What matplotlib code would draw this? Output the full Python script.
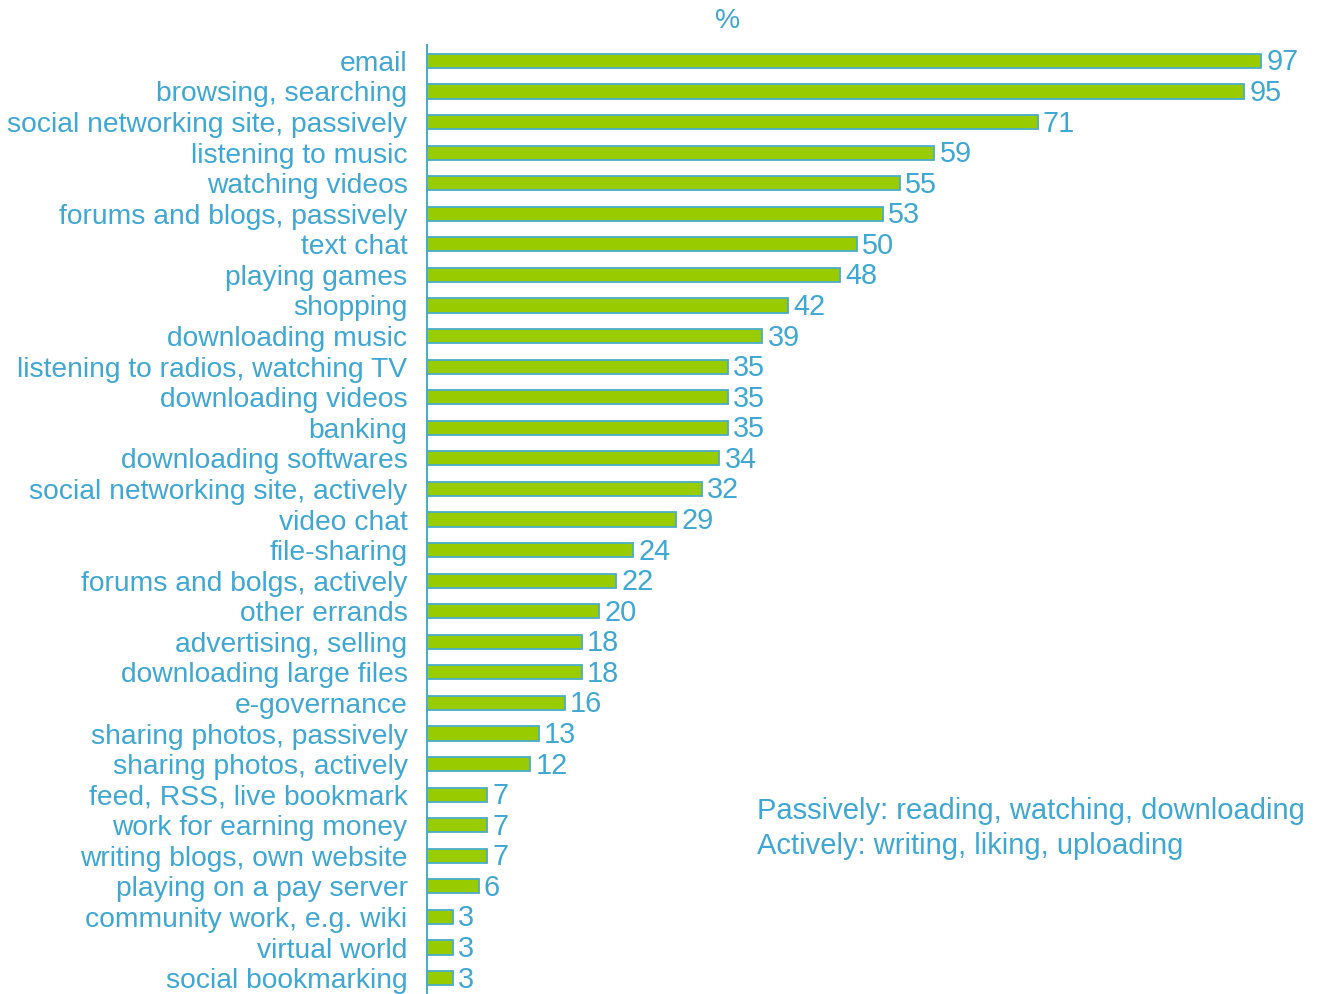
import matplotlib
matplotlib.use("Agg")
import matplotlib.pyplot as plt

plt.rcParams['font.family'] = ['Liberation Sans', 'DejaVu Sans']

categories = [
    "email", "browsing, searching", "social networking site, passively",
    "listening to music", "watching videos", "forums and blogs, passively",
    "text chat", "playing games", "shopping", "downloading music",
    "listening to radios, watching TV", "downloading videos", "banking",
    "downloading softwares", "social networking site, actively", "video chat",
    "file-sharing", "forums and bolgs, actively", "other errands",
    "advertising, selling", "downloading large files", "e-governance",
    "sharing photos, passively", "sharing photos, actively",
    "feed, RSS, live bookmark", "work for earning money",
    "writing blogs, own website", "playing on a pay server",
    "community work, e.g. wiki", "virtual world", "social bookmarking",
]
values = [97, 95, 71, 59, 55, 53, 50, 48, 42, 39, 35, 35, 35, 34, 32, 29,
          24, 22, 20, 18, 18, 16, 13, 12, 7, 7, 7, 6, 3, 3, 3]

text_blue = '#3FA7D3'
edge_blue = '#4BACC6'
green = '#99CC00'
fs = 20.3

fig = plt.figure(figsize=(13.36, 9.94), dpi=100)
ax = fig.add_axes([427 / 1336, 0.0, 1 - 427 / 1336, 1 - 45 / 994])

y = list(range(len(categories)))
ax.barh(y, values, height=0.46, color=green, edgecolor=edge_blue, linewidth=1.3)

for yi, v in zip(y, values):
    ax.text(v + 0.6, yi + 0.05, str(v), va='center', ha='left', fontsize=fs + 0.5, color=text_blue)

ax.set_ylim(30.52, -0.52)
ax.set_xlim(0, (1336 - 427) / 8.6)
ax.set_yticks(y)
ax.set_yticklabels(categories, fontsize=fs, color=text_blue)
ax.tick_params(axis='y', length=0, pad=14)
ax.set_xticks([])

for side in ['top', 'right', 'bottom']:
    ax.spines[side].set_visible(False)
ax.spines['left'].set_color(edge_blue)
ax.spines['left'].set_linewidth(1.5)

fig.text(728 / 1336, 1 - 21 / 994, '%', ha='center', va='center', fontsize=fs, color=text_blue)
fig.text(757 / 1336, 1 - 811 / 994, 'Passively: reading, watching, downloading',
         ha='left', va='center', fontsize=21, color=text_blue)
fig.text(757 / 1336, 1 - 846 / 994, 'Actively: writing, liking, uploading',
         ha='left', va='center', fontsize=21, color=text_blue)

fig.savefig('out.png', dpi=100)
